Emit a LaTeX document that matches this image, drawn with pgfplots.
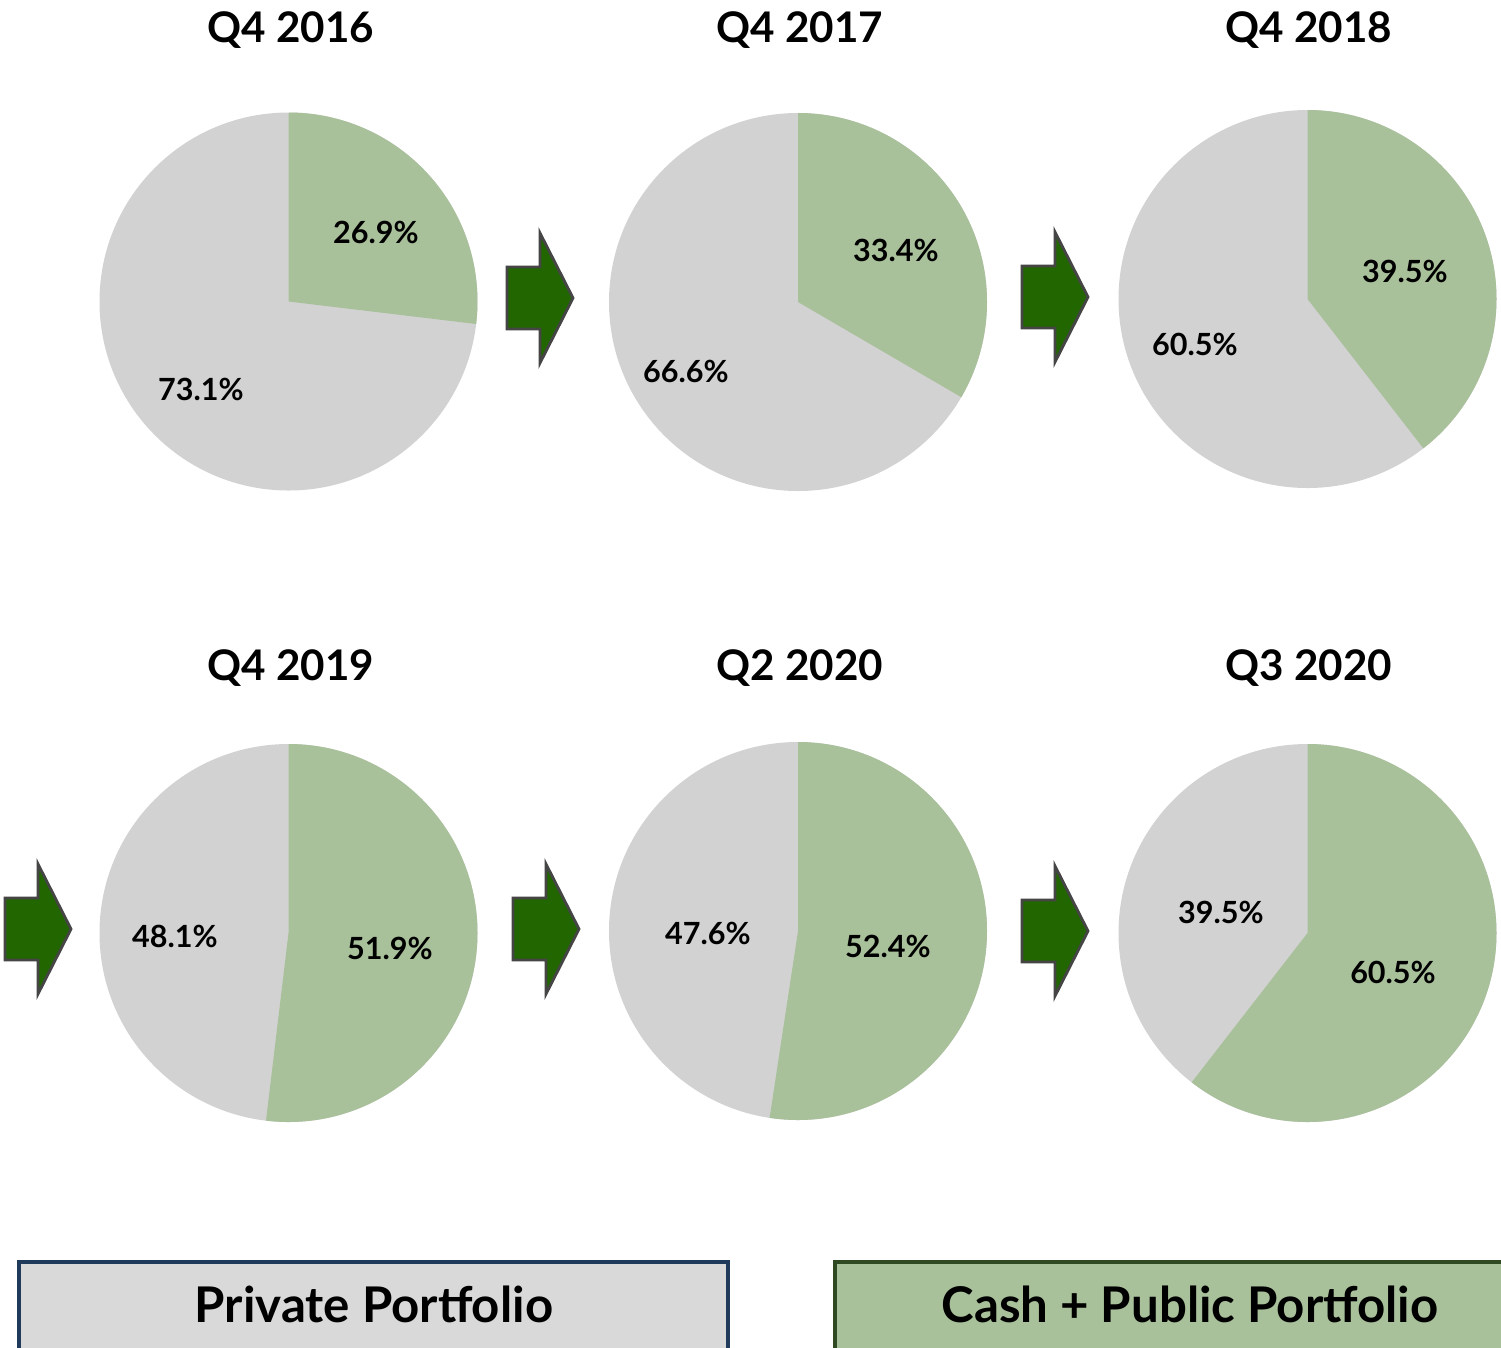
\documentclass[border=0pt]{standalone}
\usepackage{pgfplots}
\pgfplotsset{compat=1.18}
\usepackage{fontspec}
\setmainfont{Lato}

\definecolor{pieGrey}{HTML}{D2D2D2}
\definecolor{pieGreen}{HTML}{A9C19A}
\definecolor{arrowGreen}{HTML}{226600}
\definecolor{arrowEdge}{HTML}{454545}
\definecolor{boxGrey}{HTML}{D9D9D9}
\definecolor{boxNavy}{HTML}{1F3A5A}
\definecolor{boxGreenEdge}{HTML}{2F4A22}

% pie: cx, cy, green share, grey share, (unused), green label x/y, grey label x/y
\newcommand{\pie}[9]{%
  \fill[pieGrey] (axis cs:#1,#2) circle[radius=1.89cm];
  \fill[pieGreen] (axis cs:#1,#2) -- ++(90:1.89cm)
     arc[start angle=90, end angle={90-3.6*#3}, radius=1.89cm] -- cycle;
  \node[font=\bfseries\fontsize{8.7}{10}\selectfont] at (axis cs:#6,#7) {#3\%};
  \node[font=\bfseries\fontsize{8.7}{10}\selectfont] at (axis cs:#8,#9) {#4\%};
}
% block arrow: left x, centre y
\newcommand{\blockarrow}[2]{%
  \filldraw[fill=arrowGreen, draw=arrowEdge, line width=0.8pt, line join=miter]
    (axis cs:#1,#2-31) -- (axis cs:#1+33,#2-31) -- (axis cs:#1+33,#2-65)
    -- (axis cs:#1+66,#2) -- (axis cs:#1+33,#2+65) -- (axis cs:#1+33,#2+31)
    -- (axis cs:#1,#2+31) -- cycle;
}

\begin{document}
\begin{tikzpicture}
\begin{axis}[
    width=15.01cm, height=13.47cm, scale only axis,
    xmin=0, xmax=1501, ymin=0, ymax=1347,
    y dir=reverse, hide axis, clip=false,
]
  %     cx     cy    green  grey        green lbl     grey lbl
  \pie{288.5}{301.5}{26.9}{73.1}{}{376}{232}{201}{389}
  \pie{798}{302}{33.4}{66.6}{}{896}{250}{686}{371}
  \pie{1307.5}{299}{39.5}{60.5}{}{1405}{271}{1195}{344}
  \pie{288.5}{933}{51.9}{48.1}{}{390}{948}{175}{936}
  \pie{798}{931}{52.4}{47.6}{}{888}{946}{708}{933}
  \pie{1307.5}{933}{60.5}{39.5}{}{1393}{972}{1221}{912}

  \begin{scope}[every node/.style={font=\bfseries\fontsize{12.0}{14}\selectfont}]
    \node at (axis cs:291,30) {Q4 2016};
    \node at (axis cs:800,30) {Q4 2017};
    \node at (axis cs:1309,30) {Q4 2018};
    \node at (axis cs:291,668) {Q4 2019};
    \node at (axis cs:800,668) {Q2 2020};
    \node at (axis cs:1309,668) {Q3 2020};
  \end{scope}

  \blockarrow{507}{298}
  \blockarrow{1022}{297}
  \blockarrow{5}{929}
  \blockarrow{513}{929}
  \blockarrow{1022}{931}

  \filldraw[fill=boxGrey, draw=boxNavy, line width=0.9pt]
    (axis cs:19,1262) rectangle (axis cs:728,1360);
  \filldraw[fill=pieGreen, draw=boxGreenEdge, line width=0.9pt]
    (axis cs:835,1262) rectangle (axis cs:1510,1360);
  \node[font=\bfseries\fontsize{14.0}{16}\selectfont] at (axis cs:374,1304) {Private Portfolio};
  \node[font=\bfseries\fontsize{14.0}{16}\selectfont] at (axis cs:1190,1304) {Cash + Public Portfolio};
\end{axis}
\pgfresetboundingbox
\path[use as bounding box] (current axis.south west) rectangle (current axis.north east);
\end{tikzpicture}
\end{document}
